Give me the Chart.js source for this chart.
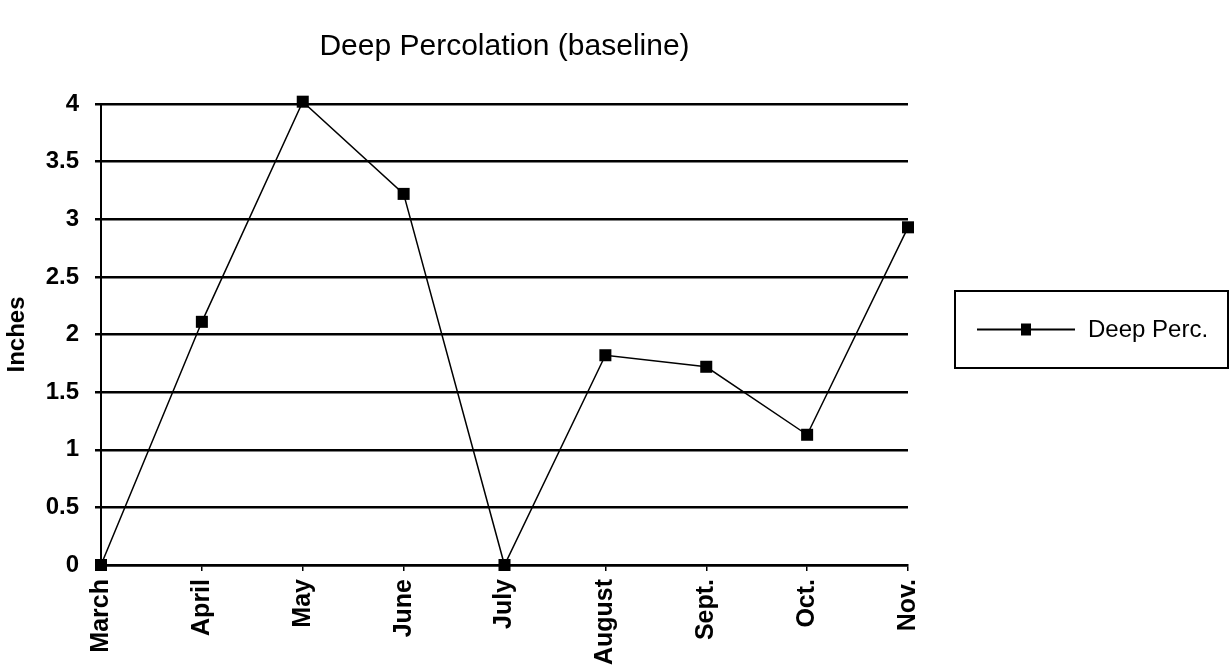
<!DOCTYPE html>
<html>
<head>
<meta charset="utf-8">
<script src="https://cdn.jsdelivr.net/npm/chart.js@4/dist/chart.umd.min.js"></script>
<style>
  html, body { margin: 0; padding: 0; background: #fff; }
  #wrap { width: 1230px; height: 669px; }
</style>
</head>
<body>
<div id="wrap"><canvas id="myChart" width="1230" height="669"></canvas></div>
<script>
let months = ["March", "April", "May", "June", "July", "August", "Sept.", "Oct.", "Nov."];
let deepPerc = [0, 2.11, 4.02, 3.22, 0, 1.82, 1.72, 1.13, 2.93];
let seriesName = "Deep Perc.";
let chartTitle = "Deep Percolation (baseline)";
let yTitle = "Inches";

let fontFamily = "'Liberation Sans', Arial, Helvetica, sans-serif";

// legend box drawn by hand, to the right of the plot
let boxLegend = {
  id: "boxLegend",
  afterDraw(chart) {
    let c = chart.ctx;
    let area = chart.chartArea;
    let x = area.right + 47;
    let y = 291;
    let w = 273;
    let h = 77;
    let mid = y + h / 2;
    c.save();
    c.strokeStyle = "#000";
    c.lineWidth = 2;
    c.strokeRect(x, y, w, h);
    c.lineWidth = 2;
    c.beginPath();
    c.moveTo(x + 22, mid);
    c.lineTo(x + 120, mid);
    c.stroke();
    c.fillStyle = "#000";
    c.fillRect(x + 66, mid - 6, 10, 12);
    c.font = "24px " + fontFamily;
    c.textBaseline = "middle";
    c.fillText(seriesName, x + 133, mid + 1);
    c.restore();
  }
};

let ctx = document.getElementById("myChart").getContext("2d");

let data = {
  labels: months,
  datasets: [
    {
      label: seriesName,
      data: deepPerc,
      borderColor: "#000",
      backgroundColor: "#000",
      borderWidth: 1.5,
      tension: 0,
      pointStyle: "rect",
      pointRadius: 8.5,
      pointBackgroundColor: "#000",
      pointBorderWidth: 0,
      clip: false,
    },
  ],
};

let options = {
  responsive: false,
  animation: false,
  layout: {
    padding: { left: 0, right: 322, top: 0, bottom: 0 },
  },
  plugins: {
    legend: { display: false },
    tooltip: { enabled: false },
    title: {
      display: true,
      text: chartTitle,
      fullSize: false,
      color: "#000",
      font: { family: fontFamily, size: 30, weight: "normal", lineHeight: 1.2 },
      padding: { top: 29, bottom: 39 },
    },
  },
  scales: {
    x: {
      offset: false,
      afterFit(scale) { scale.height = 104; },
      grid: {
        drawOnChartArea: false,
        drawTicks: true,
        tickLength: 6,
        color: "#000",
        lineWidth: 1.5,
      },
      border: { display: true, color: "#000", width: 2.5 },
      ticks: {
        autoSkip: false,
        maxRotation: 90,
        minRotation: 90,
        padding: 8,
        color: "#000",
        font: { family: fontFamily, size: 25, weight: "bold" },
      },
    },
    y: {
      min: 0,
      max: 4,
      afterFit(scale) { scale.width = 101; },
      grid: {
        color: "#000",
        lineWidth: 2.5,
        drawTicks: true,
        tickLength: 6,
      },
      border: { display: true, color: "#000", width: 2 },
      ticks: {
        stepSize: 0.5,
        padding: 16,
        color: "#000",
        font: { family: fontFamily, size: 24, weight: "bold" },
        callback: (v) => String(v),
      },
      title: {
        display: true,
        text: yTitle,
        color: "#000",
        padding: { top: 3, bottom: 0 },
        font: { family: fontFamily, size: 24, weight: "bold", lineHeight: 1.2 },
      },
    },
  },
};

let myChart = new Chart(ctx, {
  type: "line",
  data: data,
  options: options,
  plugins: [boxLegend],
});
</script>
</body>
</html>
